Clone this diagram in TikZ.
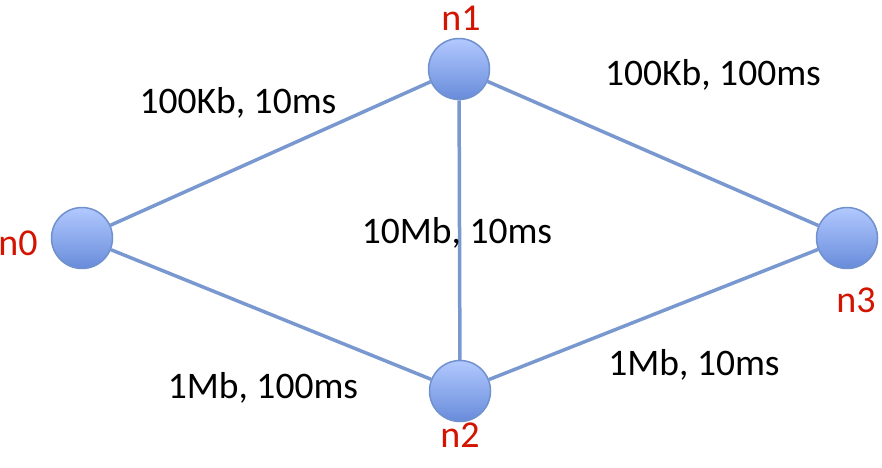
\documentclass[tikz,border=0pt]{standalone}
\usepackage{fontspec}
\setmainfont{Carlito}
\definecolor{edgeblue}{RGB}{122,152,208}
\definecolor{topblue}{RGB}{178,200,255}
\definecolor{botblue}{RGB}{104,140,218}
\definecolor{rimblue}{RGB}{112,145,205}
\definecolor{lblred}{RGB}{210,20,0}
\begin{document}
\begin{tikzpicture}[x=1pt,y=-1pt,
  netnode/.style={circle,minimum size=61pt,inner sep=0pt,draw=rimblue,line width=1.5pt,top color=topblue,bottom color=botblue},
  link/.style={draw=edgeblue,line width=3.5pt},
  lbl/.style={font=\fontsize{37.5}{42}\selectfont,text=black,inner sep=0pt},
  nlbl/.style={font=\fontsize{38}{42}\selectfont,text=lblred,inner sep=0pt}]
\useasboundingbox (0,0) rectangle (882,467);
\node[netnode] (n0) at (82,238) {};
\node[netnode] (n1) at (459,69) {};
\node[netnode] (n2) at (460,391) {};
\node[netnode] (n3) at (847,238) {};
\draw[link] (n0) -- (n1);
\draw[link] (n0) -- (n2);
\draw[link] (n1) -- (n2);
\draw[link] (n1) -- (n3);
\draw[link] (n2) -- (n3);
\node[nlbl] (l0) at (18,243) {n0};
\node[nlbl] (l1) at (461,18) {n1};
\node[nlbl] (l2) at (460,435) {n2};
\node[nlbl] (l3) at (856,300) {n3};
\node[lbl] (e01) at (238,103) {100Kb, 10ms};
\node[lbl] (e13) at (713,75) {100Kb, 100ms};
\node[lbl] (e12) at (457,233) {10Mb, 10ms};
\node[lbl] (e02) at (263,388) {1Mb, 100ms};
\node[lbl] (e23) at (694,365) {1Mb, 10ms};
\end{tikzpicture}
\end{document}
